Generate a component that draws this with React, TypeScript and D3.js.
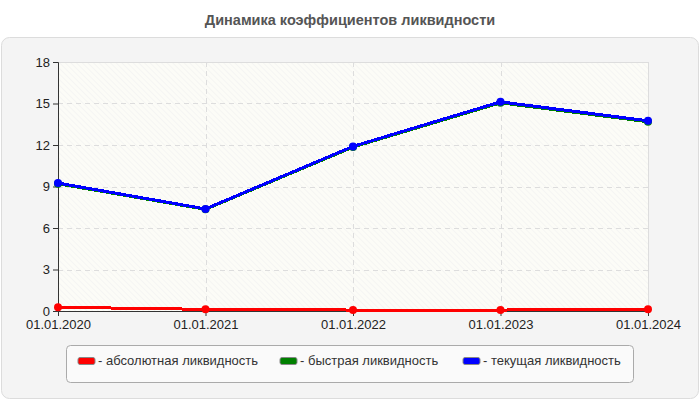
import { useRef, useEffect } from "react";
import * as d3 from "d3";

const dates = ["01.01.2020", "01.01.2021", "01.01.2022", "01.01.2023", "01.01.2024"];
const absolute = [0.27, 0.12, 0.07, 0.07, 0.12];
const quick = [9.2, 7.35, 11.85, 15.05, 13.68];
const current = [9.25, 7.38, 11.9, 15.12, 13.75];
const yTicks = [0, 3, 6, 9, 12, 15, 18];

const series = [
  { name: "- абсолютная ликвидность", values: absolute, color: "#ff0000" },
  { name: "- быстрая ликвидность", values: quick, color: "#008000" },
  { name: "- текущая ликвидность", values: current, color: "#0000ff" },
];

const W = 700;
const H = 400;
const FONT = "Arial, Liberation Sans, sans-serif";

const App = () => {
  const svgRef = useRef<SVGSVGElement | null>(null);

  useEffect(() => {
    if (!svgRef.current) return;
    const svg = d3.select(svgRef.current);
    svg.selectAll("*").remove();

    const margin = { top: 62, right: 52, bottom: 89, left: 58 };
    const innerWidth = W - margin.left - margin.right;
    const innerHeight = H - margin.top - margin.bottom;

    // штриховка фона графика
    const defs = svg.append("defs");
    const pat = defs
      .append("pattern")
      .attr("id", "hatch")
      .attr("width", 4)
      .attr("height", 4)
      .attr("patternUnits", "userSpaceOnUse")
      .attr("patternTransform", "rotate(-45)");
    pat.append("rect").attr("width", 4).attr("height", 4).attr("fill", "#fcfcf7");
    pat.append("line").attr("x1", 0).attr("y1", 0).attr("x2", 0).attr("y2", 4)
      .attr("stroke", "#efefef").attr("stroke-width", 1);

    // заголовок
    svg.append("text")
      .attr("x", W / 2)
      .attr("y", 25)
      .attr("text-anchor", "middle")
      .attr("font-family", FONT)
      .attr("font-size", 14.5)
      .attr("font-weight", "bold")
      .attr("fill", "#555")
      .text("Динамика коэффициентов ликвидности");

    // панель
    svg.append("rect")
      .attr("x", 1.5).attr("y", 37.5)
      .attr("width", W - 3).attr("height", H - 39)
      .attr("rx", 8)
      .attr("fill", "#f4f4f4")
      .attr("stroke", "#dcdcdc");

    const x = d3.scalePoint<string>().domain(dates).range([0, innerWidth]);
    const y = d3.scaleLinear().domain([0, 18]).range([innerHeight, 0]);

    const g = svg.append("g").attr("transform", `translate(${margin.left},${margin.top})`);

    g.append("rect")
      .attr("width", innerWidth).attr("height", innerHeight)
      .attr("fill", "url(#hatch)");

    // сетка
    g.selectAll(".hgrid")
      .data(yTicks.slice(1, -1))
      .enter()
      .append("line")
      .attr("x1", 0).attr("x2", innerWidth)
      .attr("y1", (d) => Math.round(y(d)) + 0.5)
      .attr("y2", (d) => Math.round(y(d)) + 0.5)
      .attr("stroke", "#dddddd")
      .attr("stroke-dasharray", "5,4");
    g.selectAll(".vgrid")
      .data(dates.slice(1, -1))
      .enter()
      .append("line")
      .attr("y1", 0).attr("y2", innerHeight)
      .attr("x1", (d) => Math.round(x(d)!) + 0.5)
      .attr("x2", (d) => Math.round(x(d)!) + 0.5)
      .attr("stroke", "#dddddd")
      .attr("stroke-dasharray", "5,4");

    g.append("line").attr("x1", 0).attr("x2", innerWidth).attr("y1", 0.5).attr("y2", 0.5)
      .attr("stroke", "#dddddd");
    g.append("line").attr("x1", innerWidth + 0.5).attr("x2", innerWidth + 0.5).attr("y1", 0).attr("y2", innerHeight)
      .attr("stroke", "#dddddd");

    // оси
    const yAxis = g.append("g").call(d3.axisLeft(y).tickValues(yTicks).tickSize(5).tickPadding(3));
    const xAxis = g.append("g")
      .attr("transform", `translate(0,${innerHeight})`)
      .call(d3.axisBottom(x).tickSize(5).tickPadding(4));
    [yAxis, xAxis].forEach((ax) => {
      ax.select(".domain").attr("stroke", "#333");
      ax.selectAll(".tick line").attr("stroke", "#333");
      ax.selectAll("text")
        .attr("font-family", FONT)
        .attr("font-size", 13)
        .attr("fill", "#222");
    });

    // линии
    const line = d3
      .line<number>()
      .x((_, i) => x(dates[i])!)
      .y((d) => y(d));

    series.forEach((s) => {
      g.append("path")
        .datum(s.values)
        .attr("d", line)
        .attr("fill", "none")
        .attr("stroke", s.color)
        .attr("stroke-width", 3)
        .attr("shape-rendering", "crispEdges");
      g.selectAll(null)
        .data(s.values)
        .enter()
        .append("circle")
        .attr("cx", (_, i) => x(dates[i])!)
        .attr("cy", (d) => y(d))
        .attr("r", 4)
        .attr("fill", s.color);
    });

    // легенда
    const lg = svg.append("g").attr("transform", "translate(66,345)");
    lg.append("rect")
      .attr("x", 0.5).attr("y", 0.5)
      .attr("width", 567).attr("height", 37)
      .attr("rx", 4)
      .attr("fill", "#fafafa")
      .attr("stroke", "#aaaaaa");
    const itemX = [12, 214, 397];
    series.forEach((s, i) => {
      lg.append("rect")
        .attr("x", itemX[i]).attr("y", 12.5)
        .attr("width", 17).attr("height", 7)
        .attr("rx", 2)
        .attr("fill", s.color)
        .attr("stroke", "#888");
      lg.append("text")
        .attr("x", itemX[i] + 20)
        .attr("y", 20)
        .attr("font-family", FONT)
        .attr("font-size", 13)
        .attr("fill", "#333")
        .text(s.name);
    });
  }, []);

  return (
    <div style={{ position: "absolute", left: 0, top: 0 }}>
      <svg ref={svgRef} width={W} height={H}></svg>
    </div>
  );
};

export default App;
